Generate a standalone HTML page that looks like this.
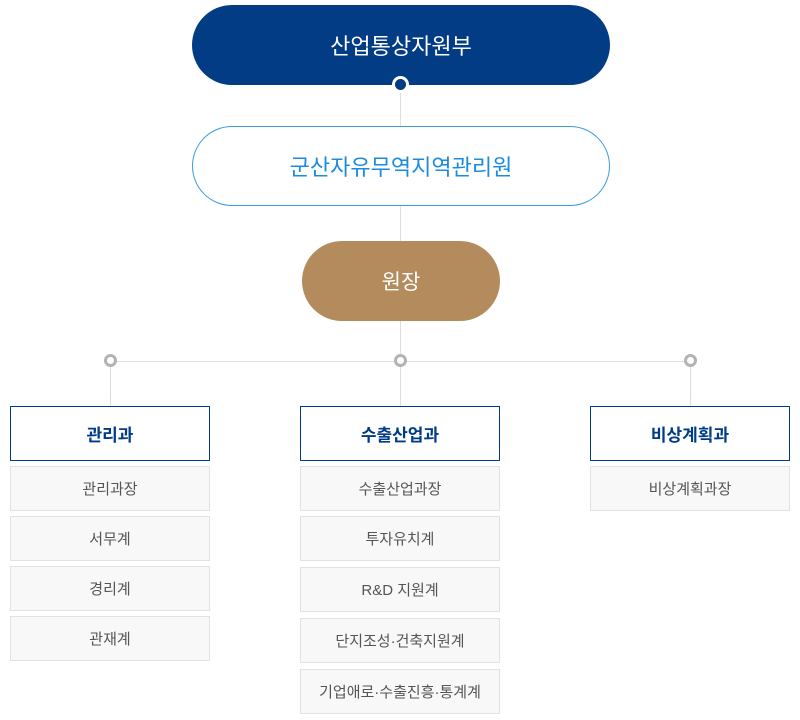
<!DOCTYPE html>
<html><head><meta charset="utf-8"><style>
*{margin:0;padding:0;box-sizing:border-box}
body{width:800px;height:720px;background:#fff;position:relative;overflow:hidden;font-family:"Liberation Sans","Noto Sans CJK KR",sans-serif}
.a{position:absolute}
.pill{position:absolute;border-radius:40px;display:flex;align-items:center;justify-content:center;font-size:21px}
.ln{position:absolute;background:#dedede}
.dot{position:absolute;width:13px;height:13px;border-radius:50%;border:3px solid #b3b3b3;background:#fff}
.h{position:absolute;width:200px;height:55px;border:1px solid #003b87;display:flex;align-items:center;justify-content:center;color:#003b87;font-weight:bold;font-size:17px}
.s{position:absolute;width:200px;height:45px;border:1px solid #e2e2e2;background:#f8f8f8;display:flex;align-items:center;justify-content:center;color:#555;font-size:15px}
</style></head><body>
<div class="ln" style="left:400px;top:85px;width:1px;height:236px"></div>
<div class="ln" style="left:400px;top:321px;width:1px;height:85px"></div>
<div class="ln" style="left:110px;top:361px;width:580px;height:1px"></div>
<div class="ln" style="left:110px;top:361px;width:1px;height:45px"></div>
<div class="ln" style="left:690px;top:361px;width:1px;height:45px"></div>
<div class="pill" style="left:192px;top:5px;width:418px;height:80px;background:#023c84;color:#fff;font-size:22px">산업통상자원부</div>
<div class="a" style="left:392px;top:76px;width:17px;height:17px;border-radius:50%;background:#023c84;border:3px solid #fff"></div>
<div class="pill" style="left:192px;top:126px;width:418px;height:80px;background:#fff;border:1px solid #3a9ae0;color:#1a8be0;font-size:22px">군산자유무역지역관리원</div>
<div class="pill" style="left:302px;top:241px;width:198px;height:80px;background:#b38b5d;color:#fff">원장</div>
<div class="dot" style="left:104px;top:354px"></div>
<div class="dot" style="left:394px;top:354px"></div>
<div class="dot" style="left:684px;top:354px"></div>
<div class="h" style="left:10px;top:406px">관리과</div>
<div class="h" style="left:300px;top:406px">수출산업과</div>
<div class="h" style="left:590px;top:406px">비상계획과</div>
<div class="s" style="left:10px;top:466px">관리과장</div>
<div class="s" style="left:10px;top:516px">서무계</div>
<div class="s" style="left:10px;top:566px">경리계</div>
<div class="s" style="left:10px;top:616px">관재계</div>
<div class="s" style="left:300px;top:466px">수출산업과장</div>
<div class="s" style="left:300px;top:516px">투자유치계</div>
<div class="s" style="left:300px;top:567px">R&amp;D 지원계</div>
<div class="s" style="left:300px;top:618px">단지조성·건축지원계</div>
<div class="s" style="left:300px;top:669px">기업애로·수출진흥·통계계</div>
<div class="s" style="left:590px;top:466px">비상계획과장</div>
</body></html>
